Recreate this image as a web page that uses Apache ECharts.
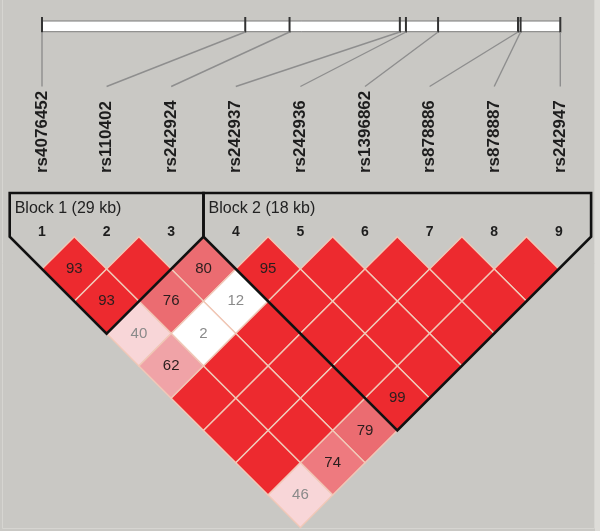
<!DOCTYPE html>
<html>
<head>
  <meta charset="utf-8">
  <title>LD plot</title>
</head>
<body style="margin: 0; background: #c9c8c4">
  <div id="container" style="width: 600px; height: 531px;"></div>

  <script type="text/javascript" src="https://cdn.jsdelivr.net/npm/echarts@6/dist/echarts.min.js"></script>
  <script type="text/javascript">
    // SNP markers, in map order
    var snpNames = ['rs4076452', 'rs110402', 'rs242924', 'rs242937', 'rs242936', 'rs1396862', 'rs878886', 'rs878887', 'rs242947'];
    // physical position along the region, kb from the first marker
    var snpKb = [0, 23.4, 28.5, 41.2, 41.9, 45.6, 54.8, 55.1, 59.5];

    // haplotype blocks (first and last marker, 1-based)
    var blockStart = [1, 4];
    var blockEnd = [3, 9];
    var blockNames = ['Block 1 (29 kb)', 'Block 2 (18 kb)'];

    // D' x 100, one row per marker distance (row 0 = neighbours)
    var dPrimeRows = [
      [93, 100, 80, 95, 100, 100, 100, 100],
      [93, 76, 12, 100, 100, 100, 100],
      [40, 2, 100, 100, 100, 100],
      [62, 100, 100, 100, 100],
      [100, 100, 100, 99],
      [100, 100, 79],
      [100, 74],
      [46]
    ];

    var FONT = '"Liberation Sans", Arial, sans-serif';
    var STEP = 64.6;        // px per marker
    var ZERO_Y = 236.7;     // px of the top row vertices

    var ldData = [];
    dPrimeRows.forEach(function (row, d) {
      row.forEach(function (v, k) {
        ldData.push([k + 1, k + 2 + d, v]);
      });
    });

    var blockData = blockStart.map(function (s, k) { return [s, blockEnd[k]]; });
    var snpData = snpNames.map(function (n, k) { return [k + 1, snpKb[k]]; });

    function cellColor(v) {
      if (v >= 90) return '#ed2a2f';
      if (v >= 75) return '#eb6c71';
      if (v >= 70) return '#ee7a7f';
      if (v >= 55) return '#f0a3a7';
      if (v >= 30) return '#f8d6d8';
      return '#ffffff';
    }

    var dom = document.getElementById('container');
    var myChart = echarts.init(dom, null, { renderer: 'canvas' });

    var option = {
      backgroundColor: '#c9c8c4',
      animation: false,
      grid: { left: 0, right: 0, top: 0, bottom: 0 },
      xAxis: {
        type: 'value',
        show: false,
        min: 1 - 42 / STEP,
        max: 1 - 42 / STEP + 600 / STEP
      },
      yAxis: {
        type: 'value',
        show: false,
        inverse: true,
        min: -ZERO_Y / STEP,
        max: -ZERO_Y / STEP + 531 / STEP
      },
      graphic: [
        {
          type: 'rect',
          shape: { x: 595, y: 0, width: 5, height: 531 },
          style: { fill: '#dddcd8' }
        },
        {
          type: 'rect',
          shape: { x: 2.5, y: -2, width: 592, height: 530.5 },
          style: { fill: 'none', stroke: '#d6d5d1', lineWidth: 1 }
        }
      ],
      series: [
        {
          // map bar on top
          type: 'custom',
          data: [[1, snpNames.length]],
          renderItem: function (params, api) {
            var x0 = api.coord([api.value(0), 0])[0];
            var x1 = api.coord([api.value(1), 0])[0];
            return {
              type: 'rect',
              shape: { x: x0, y: 21, width: x1 - x0 + 1.5, height: 10.7 },
              style: { fill: '#ffffff', stroke: '#7a7a7a', lineWidth: 1 }
            };
          }
        },
        {
          // ticks, connectors, names and numbers for each marker
          type: 'custom',
          data: snpData,
          renderItem: function (params, api) {
            var idx = api.value(0);
            var kb = api.value(1);
            var last = snpKb[snpKb.length - 1];
            var px = api.coord([idx, 0])[0];
            var bx = api.coord([1 + kb / last * (snpNames.length - 1), 0])[0];
            if (idx === snpNames.length) bx += 1.5;
            return {
              type: 'group',
              children: [
                {
                  type: 'line',
                  shape: { x1: bx, y1: 17, x2: bx, y2: 32.5 },
                  style: { stroke: '#333333', lineWidth: 2 }
                },
                {
                  type: 'line',
                  shape: { x1: bx, y1: 32, x2: px + (idx === snpNames.length ? 1.5 : 0), y2: 86.5 },
                  style: { stroke: '#8e8e8e', lineWidth: 1.4 }
                },
                {
                  type: 'text',
                  x: px + (idx === snpNames.length ? 1.5 : 0),
                  y: 173,
                  rotation: Math.PI / 2,
                  style: {
                    text: snpNames[params.dataIndex],
                    font: 'bold 17px ' + FONT,
                    fill: '#1e1e1e',
                    align: 'left',
                    verticalAlign: 'middle'
                  }
                },
                {
                  type: 'text',
                  x: px,
                  y: 231.7,
                  style: {
                    text: String(idx),
                    font: 'bold 14px ' + FONT,
                    fill: '#1e1e1e',
                    align: 'center',
                    verticalAlign: 'middle'
                  }
                }
              ]
            };
          }
        },
        {
          // LD diamonds
          type: 'custom',
          data: ldData,
          renderItem: function (params, api) {
            var i = api.value(0), j = api.value(1), v = api.value(2);
            var cx = (i + j) / 2, cy = (j - i) / 2;
            var pts = [
              api.coord([cx, cy - 0.5]),
              api.coord([cx + 0.5, cy]),
              api.coord([cx, cy + 0.5]),
              api.coord([cx - 0.5, cy])
            ];
            var c = api.coord([cx, cy]);
            var kids = [{
              type: 'polygon',
              shape: { points: pts },
              style: { fill: cellColor(v), stroke: '#f1c8b7', lineWidth: 1.4 }
            }];
            if (v < 100) {
              kids.push({
                type: 'text',
                x: c[0],
                y: c[1],
                style: {
                  text: String(v),
                  font: '15px ' + FONT,
                  fill: v < 50 ? '#8a8a8a' : '#2a1e1e',
                  align: 'center',
                  verticalAlign: 'middle'
                }
              });
            }
            return { type: 'group', children: kids };
          }
        },
        {
          // block outlines
          type: 'custom',
          data: blockData,
          renderItem: function (params, api) {
            var s = api.value(0), e = api.value(1);
            var p0 = api.coord([s - 0.5, 0]);
            var pb = api.coord([(s + e) / 2, (e - s) / 2 + 0.5]);
            var p1 = api.coord([e + 0.5, 0]);
            var top = p0[1] - 43.7;
            return {
              type: 'group',
              children: [
                {
                  type: 'polygon',
                  shape: { points: [[p0[0], top], [p1[0], top], p1, pb, p0] },
                  style: { fill: 'none', stroke: '#111111', lineWidth: 2.6, lineJoin: 'miter' }
                },
                {
                  type: 'text',
                  x: p0[0] + 5,
                  y: 209,
                  style: {
                    text: blockNames[params.dataIndex],
                    font: '16px ' + FONT,
                    fill: '#222222',
                    align: 'left',
                    verticalAlign: 'middle'
                  }
                }
              ]
            };
          }
        }
      ]
    };

    myChart.setOption(option);
  </script>
</body>
</html>
